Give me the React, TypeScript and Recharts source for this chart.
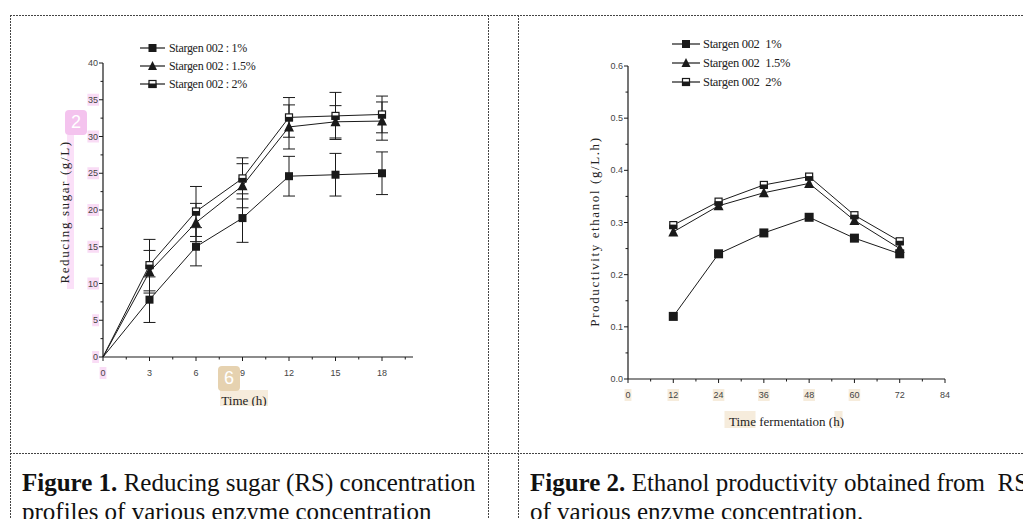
import React from 'react';
import { LineChart, Line, XAxis, YAxis, ErrorBar, Legend, Label } from 'recharts';

// Figure 1 - reducing sugar (g/L) vs time (h)
const hours1 = [0, 3, 6, 9, 12, 15, 18];
const rs1 = [0, 7.8, 15.0, 18.9, 24.6, 24.8, 25.0];
const rs1Err = [0, 3.1, 2.6, 3.3, 2.7, 2.9, 2.9];
const rs15 = [0, 11.6, 18.3, 23.3, 31.3, 32.0, 32.1];
const rs15Err = [0, 2.9, 2.6, 3.0, 3.0, 2.2, 2.6];
const rs2 = [0, 12.5, 19.8, 24.3, 32.6, 32.8, 33.0];
const rs2Err = [0, 3.5, 3.4, 2.8, 2.7, 3.2, 2.5];
const names1 = ['Stargen 002 : 1%', 'Stargen 002 : 1.5%', 'Stargen 002 : 2%'];

// Figure 2 - ethanol productivity (g/L.h) vs fermentation time (h)
const hours2 = [12, 24, 36, 48, 60, 72];
const pe1 = [0.12, 0.24, 0.28, 0.31, 0.27, 0.24];
const pe15 = [0.282, 0.332, 0.357, 0.375, 0.304, 0.25];
const pe2 = [0.295, 0.34, 0.372, 0.388, 0.314, 0.264];
const names2 = ['Stargen 002  1%', 'Stargen 002  1.5%', 'Stargen 002  2%'];

// ticks (major + minor)
const xTicks1 = [0, 1.5, 3, 4.5, 6, 7.5, 9, 10.5, 12, 13.5, 15, 16.5, 18, 19.5];
const xMajor1 = [0, 3, 6, 9, 12, 15, 18];
const yTicks1 = [0, 2.5, 5, 7.5, 10, 12.5, 15, 17.5, 20, 22.5, 25, 27.5, 30, 32.5, 35, 37.5, 40];
const yMajor1 = [0, 5, 10, 15, 20, 25, 30, 35, 40];
const xTicks2 = [0, 6, 12, 18, 24, 30, 36, 42, 48, 54, 60, 66, 72, 78, 84];
const xMajor2 = [0, 12, 24, 36, 48, 60, 72, 84];
const yTicks2 = [0, 0.05, 0.1, 0.15, 0.2, 0.25, 0.3, 0.35, 0.4, 0.45, 0.5, 0.55, 0.6];
const yMajor2 = [0, 0.1, 0.2, 0.3, 0.4, 0.5, 0.6];

const data1 = hours1.map((t, i) => ({
  t, a: rs1[i], aErr: rs1Err[i], b: rs15[i], bErr: rs15Err[i], c: rs2[i], cErr: rs2Err[i],
}));
const data2 = hours2.map((t, i) => ({ t, a: pe1[i], b: pe15[i], c: pe2[i] }));

const INK = '#1a1a1a';
const TICK_FONT = "'Liberation Sans Narrow', 'Liberation Sans', Arial, sans-serif";
const SERIF = "'Liberation Serif', 'Times New Roman', serif";
const PINK = '#f9dcf5';
const BEIGE = '#f6ecdc';

const isIn = (list: number[], v: number) => list.some((m) => Math.abs(m - v) < 1e-9);

// marker: 0 = filled square, 1 = filled triangle, 2 = half filled square
const marker = (kind: number, cx: number, cy: number, s: number, key?: any) => {
  const h = s / 2;
  if (kind === 0) return <rect key={key} x={cx - h} y={cy - h} width={s} height={s} fill={INK} />;
  if (kind === 1)
    return (
      <polygon
        key={key}
        points={`${cx},${cy - h - 1} ${cx + h + 0.5},${cy + h} ${cx - h - 0.5},${cy + h}`}
        fill={INK}
      />
    );
  return (
    <g key={key}>
      <rect x={cx - h + 0.5} y={cy - h + 0.5} width={s - 1} height={s - 1} fill="#fff" stroke={INK} strokeWidth={1.2} />
      <rect x={cx - h} y={cy - 0.5} width={s} height={h + 0.5} fill={INK} />
    </g>
  );
};

const makeDot = (kind: number, size: number) => (props: any) => {
  const { cx, cy, index, payload } = props;
  if (cx == null || cy == null || payload.t === 0) return <g key={`d-${index}`} />;
  return marker(kind, cx, cy, size, `d-${index}`);
};

const makeYTick = (major: number[], fmt: (v: number) => string, hl: number[], hlColor: string) => (props: any) => {
  const { x, y, payload } = props;
  const v = payload.value;
  const big = isIn(major, v);
  const label = fmt(v);
  const w = label.length * 4.8;
  return (
    <g>
      <line x1={x} x2={x - (big ? 4 : 2.5)} y1={y} y2={y} stroke={INK} />
      {big && isIn(hl, v) && <rect x={x - 6 - w} y={y - 6} width={w + 2} height={12} fill={hlColor} />}
      {big && (
        <text x={x - 5} y={y} dy="0.35em" textAnchor="end" fontSize={9} fill="#444" fontFamily={TICK_FONT}>
          {label}
        </text>
      )}
    </g>
  );
};

const makeXTick = (major: number[], hl: number[], hlColor: string) => (props: any) => {
  const { x, y, payload } = props;
  const v = payload.value;
  const big = isIn(major, v);
  const label = String(v);
  const w = label.length * 4.8;
  return (
    <g>
      <line x1={x} x2={x} y1={y} y2={y + (big ? 4 : 2.5)} stroke={INK} />
      {big && isIn(hl, v) && <rect x={x - w / 2 - 1} y={y + 10} width={w + 2} height={12} fill={hlColor} />}
      {big && (
        <text x={x} y={y + 16} dy="0.35em" textAnchor="middle" fontSize={9} fill="#444" fontFamily={TICK_FONT}>
          {label}
        </text>
      )}
    </g>
  );
};

const LegendBox = ({ names, gap, rowH, symW, size }: { names: string[]; gap: number; rowH: number; symW: number; size: number }) => (
  <div>
    {names.map((n, i) => (
      <div key={n} style={{ display: 'flex', alignItems: 'center', height: rowH }}>
        <svg width={symW} height={12} style={{ display: 'block' }}>
          <line x1={0} x2={symW} y1={6} y2={6} stroke={INK} strokeWidth={1.2} />
          {marker(i, symW / 2, 6, 8)}
        </svg>
        <span
          style={{
            marginLeft: gap,
            fontFamily: SERIF,
            fontSize: size,
            color: '#222',
            letterSpacing: -0.3,
            whiteSpace: 'pre',
            lineHeight: '12px',
          }}
        >
          {n}
        </span>
      </div>
    ))}
  </div>
);

const yTitle = (text: string, dx: number, dy: number) => (p: any) => {
  const vb = p.viewBox;
  const cx = vb.x + dx;
  const cy = vb.y + vb.height / 2 + dy;
  return (
    <text
      x={cx}
      y={cy}
      transform={`rotate(-90, ${cx}, ${cy})`}
      textAnchor="middle"
      dominantBaseline="central"
      fontFamily={SERIF}
      fontSize={13}
      letterSpacing={1.6}
      fill="#222"
    >
      {text}
    </text>
  );
};

const Figure1 = () => (
  <LineChart width={390} height={376} data={data1} margin={{ top: 33, right: 20, bottom: 0, left: 0 }}>
    <XAxis
      dataKey="t"
      type="number"
      domain={[0, 20]}
      ticks={xTicks1}
      interval={0}
      height={49}
      tickSize={0}
      tickMargin={0}
      tickLine={false}
      axisLine={{ stroke: INK, strokeWidth: 1.2 }}
      tick={makeXTick(xMajor1, [0], PINK)}
    >
      <Label
        content={(p: any) => {
          const vb = p.viewBox;
          const cx = vb.x + vb.width / 2 - 14;
          return (
            <g>
              <rect x={cx - 24} y={vb.y + 33} width={48} height={19} fill={BEIGE} />
              <text x={cx} y={vb.y + 43} textAnchor="middle" dominantBaseline="central" fontFamily={SERIF} fontSize={13} fill="#222">
                Time (h)
              </text>
            </g>
          );
        }}
      />
    </XAxis>
    <YAxis
      type="number"
      domain={[0, 40]}
      ticks={yTicks1}
      interval={0}
      width={60}
      tickSize={0}
      tickMargin={0}
      tickLine={false}
      axisLine={{ stroke: INK, strokeWidth: 1.2 }}
      tick={makeYTick(yMajor1, (v) => String(v), [0, 5, 10, 15, 20, 25, 30, 35], PINK)}
    >
      <Label content={yTitle('Reducing sugar (g/L)', 21, 2)} />
    </YAxis>
    <Legend
      layout="vertical"
      align="center"
      verticalAlign="middle"
      wrapperStyle={{ top: 9, left: 97, width: 200 }}
      content={() => <LegendBox names={names1} gap={4} rowH={18} symW={25} size={12} />}
    />
    <Line dataKey="a" name={names1[0]} stroke={INK} strokeWidth={1} dot={makeDot(0, 8)} activeDot={false} isAnimationActive={false}>
      <ErrorBar dataKey="aErr" width={6} stroke={INK} strokeWidth={1} direction="y" />
    </Line>
    <Line dataKey="b" name={names1[1]} stroke={INK} strokeWidth={1} dot={makeDot(1, 9)} activeDot={false} isAnimationActive={false}>
      <ErrorBar dataKey="bErr" width={6} stroke={INK} strokeWidth={1} direction="y" />
    </Line>
    <Line dataKey="c" name={names1[2]} stroke={INK} strokeWidth={1} dot={makeDot(2, 8)} activeDot={false} isAnimationActive={false}>
      <ErrorBar dataKey="cErr" width={6} stroke={INK} strokeWidth={1} direction="y" />
    </Line>
  </LineChart>
);

const Figure2 = () => (
  <LineChart width={397} height={398} data={data2} margin={{ top: 36, right: 20, bottom: 0, left: 0 }}>
    <XAxis
      dataKey="t"
      type="number"
      domain={[0, 84]}
      ticks={xTicks2}
      interval={0}
      height={49}
      tickSize={0}
      tickMargin={0}
      tickLine={false}
      axisLine={{ stroke: INK, strokeWidth: 1.2 }}
      tick={makeXTick(xMajor2, [0, 12, 24, 36, 48, 60], BEIGE)}
    >
      <Label
        content={(p: any) => {
          const vb = p.viewBox;
          const cx = vb.x + vb.width / 2;
          return (
            <g>
              <rect x={cx - 62} y={vb.y + 32} width={31} height={19} fill={BEIGE} />
              <rect x={cx + 48} y={vb.y + 32} width={8} height={19} fill={BEIGE} />
              <text x={cx} y={vb.y + 42} textAnchor="middle" dominantBaseline="central" fontFamily={SERIF} fontSize={13} fill="#222">
                Time fermentation (h)
              </text>
            </g>
          );
        }}
      />
    </XAxis>
    <YAxis
      type="number"
      domain={[0, 0.6]}
      ticks={yTicks2}
      interval={0}
      width={60}
      tickSize={0}
      tickMargin={0}
      tickLine={false}
      axisLine={{ stroke: INK, strokeWidth: 1.2 }}
      tick={makeYTick(yMajor2, (v) => v.toFixed(1), [], BEIGE)}
    >
      <Label content={yTitle('Productivity ethanol (g/L.h)', 26, 9)} />
    </YAxis>
    <Legend
      layout="vertical"
      align="center"
      verticalAlign="middle"
      wrapperStyle={{ top: 4, left: 104, width: 220 }}
      content={() => <LegendBox names={names2} gap={3} rowH={19} symW={28} size={12.5} />}
    />
    <Line dataKey="a" name={names2[0]} stroke={INK} strokeWidth={1} dot={makeDot(0, 9)} activeDot={false} isAnimationActive={false} />
    <Line dataKey="b" name={names2[1]} stroke={INK} strokeWidth={1} dot={makeDot(1, 9)} activeDot={false} isAnimationActive={false} />
    <Line dataKey="c" name={names2[2]} stroke={INK} strokeWidth={1} dot={makeDot(2, 8)} activeDot={false} isAnimationActive={false} />
  </LineChart>
);

const captionStyle: React.CSSProperties = {
  position: 'absolute',
  fontFamily: SERIF,
  fontSize: 25,
  lineHeight: '29px',
  color: '#111',
  whiteSpace: 'nowrap',
};

const badge = (bg: string): React.CSSProperties => ({
  position: 'absolute',
  width: 22,
  height: 25,
  borderRadius: 4,
  background: bg,
  color: '#fff',
  fontFamily: "'Liberation Sans', Arial, sans-serif",
  fontSize: 18,
  lineHeight: '25px',
  textAlign: 'center',
});

export default function App() {
  return (
    <div
      style={{
        position: 'fixed',
        left: 0,
        top: 0,
        width: 1023,
        height: 519,
        background: '#fff',
        overflow: 'hidden',
      }}
    >
      {/* table cell borders */}
      <svg width={1023} height={519} style={{ position: 'absolute', left: 0, top: 0 }}>
        <g stroke="#444" strokeWidth={1} strokeDasharray="2 1">
          <line x1={10} x2={1023} y1={15.5} y2={15.5} />
          <line x1={10} x2={1023} y1={453.5} y2={453.5} />
          <line x1={10.5} x2={10.5} y1={15} y2={519} />
          <line x1={488.5} x2={488.5} y1={15} y2={519} />
          <line x1={518.5} x2={518.5} y1={15} y2={519} />
        </g>
      </svg>

      {/* highlight strip behind figure 1 y title */}
      <div style={{ position: 'absolute', left: 67, top: 135, width: 7, height: 154, background: '#fbe0f8' }} />

      <div style={{ position: 'absolute', left: 43, top: 30 }}>
        <Figure1 />
      </div>
      <div style={{ position: 'absolute', left: 568, top: 30 }}>
        <Figure2 />
      </div>

      <div style={{ ...badge('#f4c3ee'), left: 65, top: 110 }}>2</div>
      <div style={{ ...badge('#e6d2b0'), left: 218, top: 366 }}>6</div>

      <div style={{ ...captionStyle, left: 22, top: 468 }}>
        <b>Figure 1.</b> Reducing sugar (RS) concentration
        <br />
        profiles of various enzyme concentration
      </div>
      <div style={{ ...captionStyle, left: 530, top: 468 }}>
        <b>Figure 2.</b> Ethanol productivity obtained from&nbsp; RS
        <br />
        of various enzyme concentration.
      </div>
    </div>
  );
}
